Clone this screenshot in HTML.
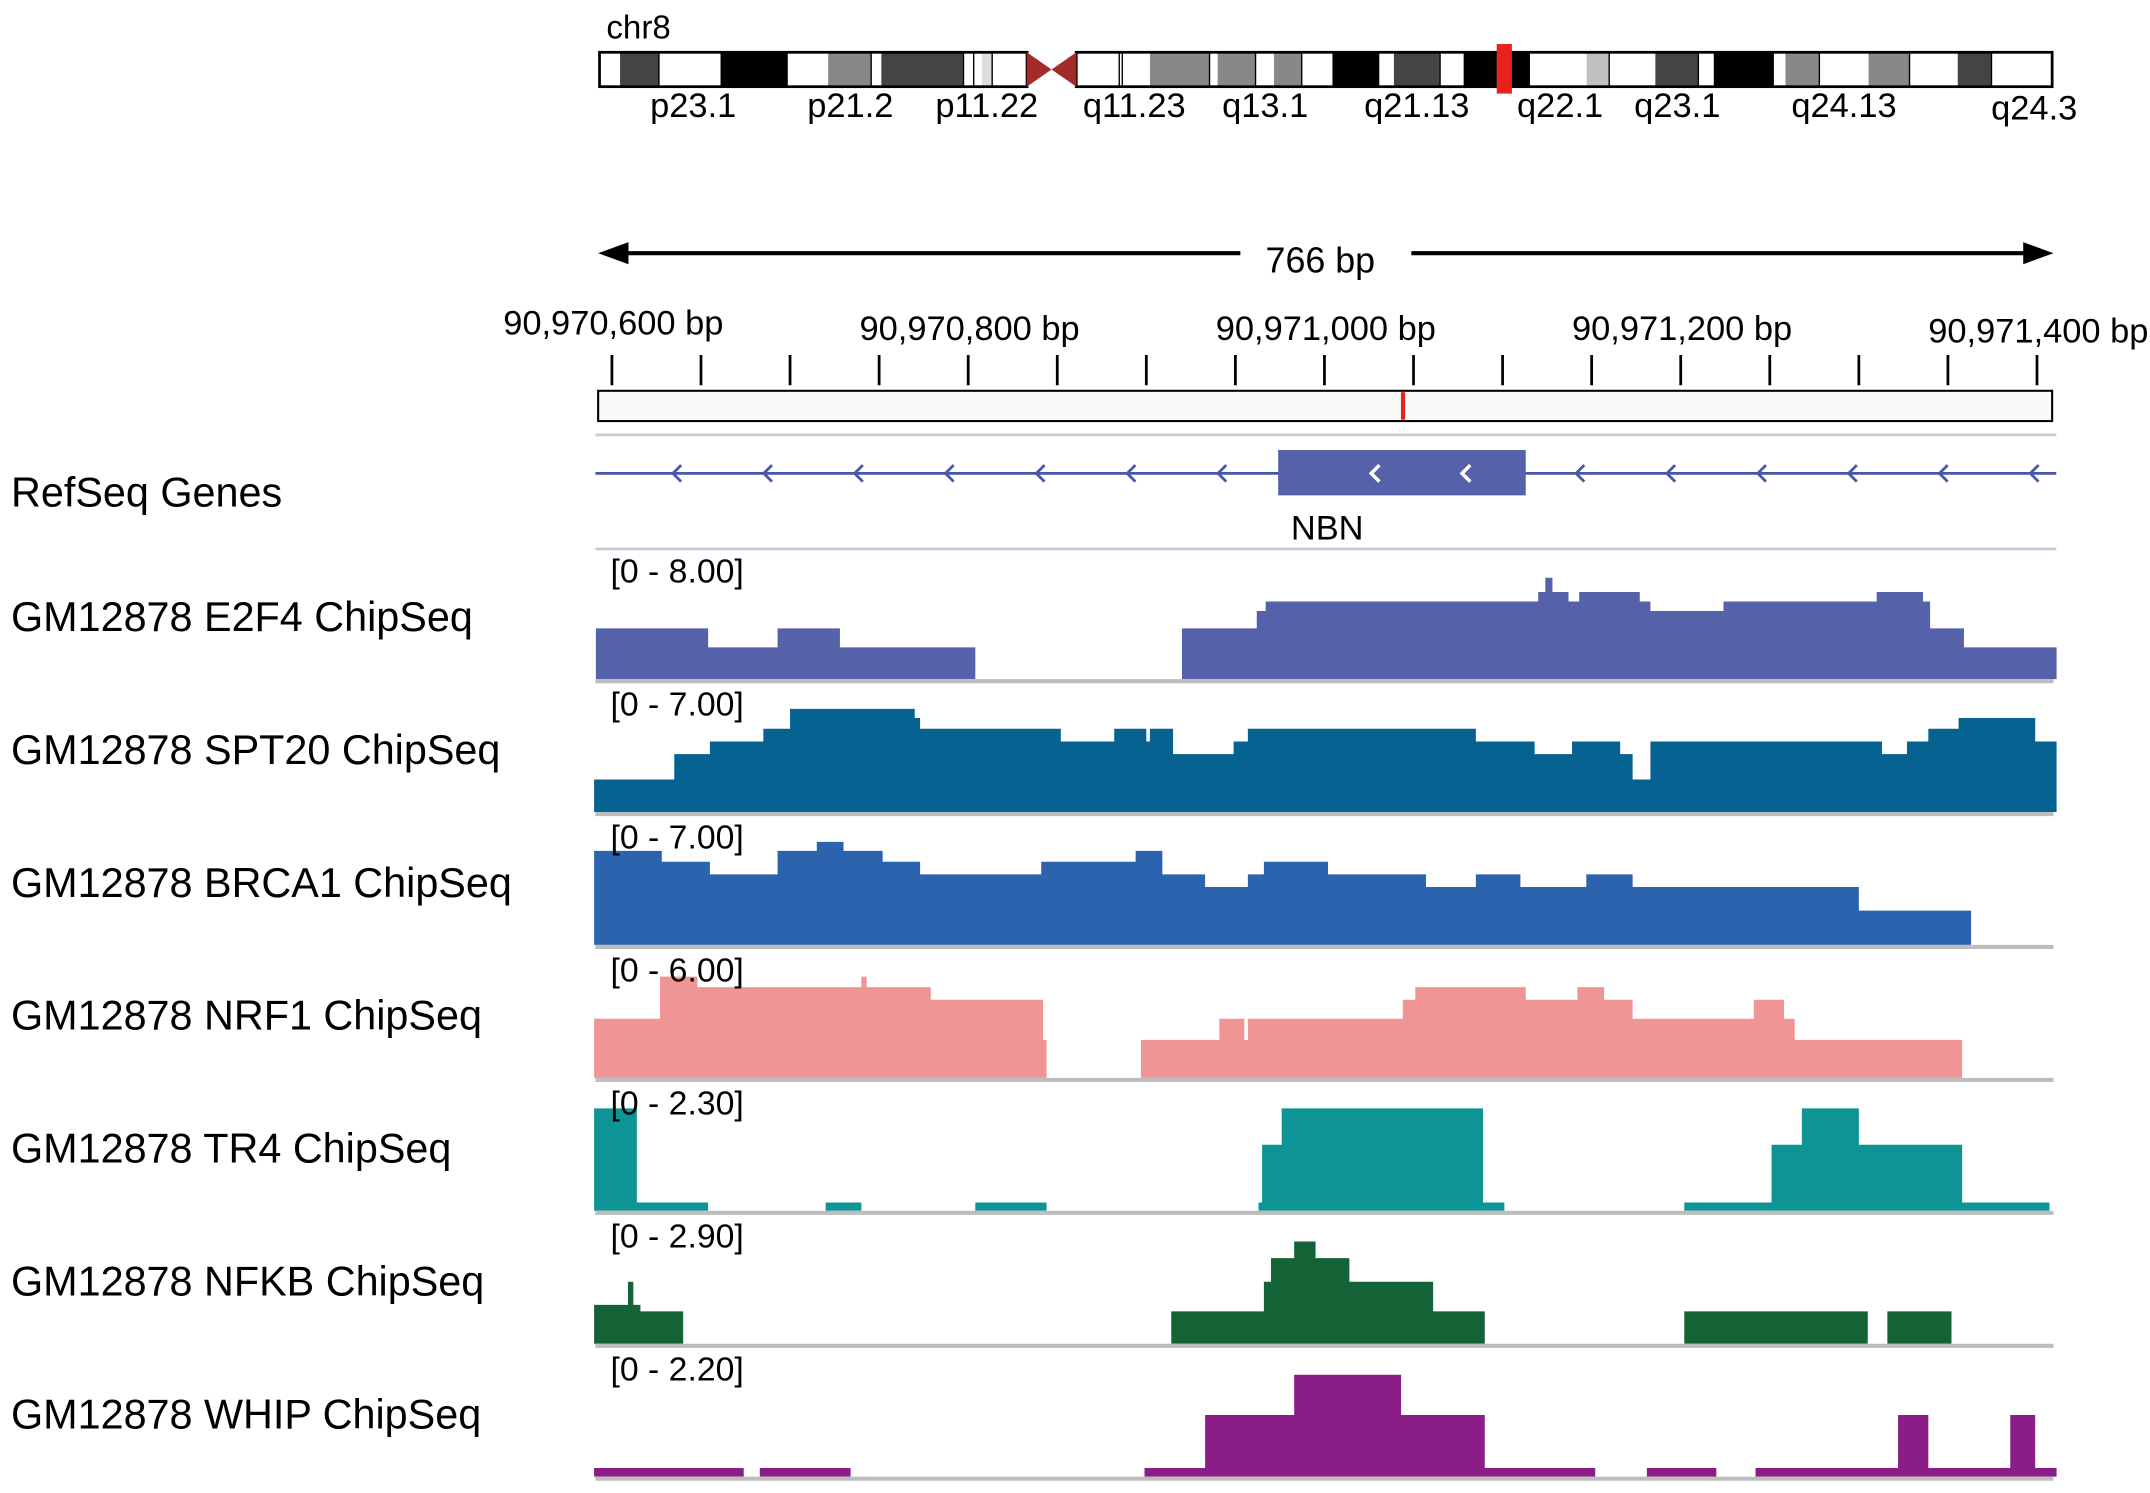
<!DOCTYPE html>
<html><head><meta charset="utf-8"><title>chr8 NBN ChIP-Seq tracks</title>
<style>
html,body{margin:0;padding:0;background:#fff;}
svg{display:block;}
text{font-family:"Liberation Sans",Arial,sans-serif;fill:#000;}
</style></head>
<body>
<svg id="chart" width="2150" height="1493" viewBox="0 0 1560 1085" preserveAspectRatio="none" xmlns="http://www.w3.org/2000/svg">
  <g id="ideogram"></g>
  <g id="ruler"></g>
  <g id="genes"></g>
  <g id="tracks"></g>
</svg>
<script>
const NS = "http://www.w3.org/2000/svg";
// ---- data ----
const bandEdges = [435,449.9,478.1,522.8,571.1,600.9,632.1,639.5,699.1,706.5,712.4,719.9,745.2];
const bandShades = ["#fff","#444","#fff","#000","#fff","#888","#fff","#444","#fff","#fff","#ddd","#fff"];
const qBandEdges = [780.9,812.1,814.3,834.4,877.6,883.5,911,924.4,944.5,966.8,1000.3,1011.4,1044.9,1062,1085.8,1097,1109.6,1151.3,1167.6,1201.1,1232.3,1243.5,1286.6,1295.5,1320.1,1355.8,1385.5,1420.5,1445,1489];
const qBandShades = ["#fff","#fff","#fff","#888","#fff","#888","#fff","#888","#fff","#000","#fff","#444","#fff","#000","#000","#000","#fff","#c0c0c0","#fff","#444","#fff","#000","#fff","#888","#fff","#888","#fff","#444","#fff"];
const bandLabels = ["p23.1","p21.2","p11.22","q11.23","q13.1","q21.13","q22.1","q23.1","q24.13","q24.3"];
const bandLabelX = [503,617,716,823,918,1028,1132,1217,1338,1476];

const tickLabels = ["90,970,600 bp","90,970,800 bp","90,971,000 bp","90,971,200 bp","90,971,400 bp"];
const tickLabelBp = [0,200,400,600,800];
const tickLabelY = [234,238,238,238,240];
const minorTicksBp = [0,50,100,150,200,250,300,350,400,450,500,550,600,650,700,750,800];
const geneExon = [374,513];
const geneChevronBp = [35,86,137,188,239,290,341,427,478,542,593,644,695,746,797];
const exonChevronBp = [427,478];

const trackNames = ["GM12878 E2F4 ChipSeq","GM12878 SPT20 ChipSeq","GM12878 BRCA1 ChipSeq","GM12878 NRF1 ChipSeq","GM12878 TR4 ChipSeq","GM12878 NFKB ChipSeq","GM12878 WHIP ChipSeq"];
const trackMax = [8.00,7.00,7.00,6.00,2.30,2.90,2.20];
const trackColors = ["#5561a8","#056291","#2c63ae","#f09596","#0e9494","#136336","#8b1d87"];

const e2f4Edges = [-9,54,93,128,204,320,362,367,520,524,528,537,543,577,583,624,710,736,740,759,811];
const e2f4Values = [3.2,2.0,3.2,2.0,0,3.2,4.3,4.9,5.5,6.4,5.5,4.9,5.5,4.9,4.3,4.9,5.5,4.9,3.2,2.0];
const spt20Edges = [-10,35,55,85,100,170,173,252,282,300,302,315,349,357,485,518,539,566,573,583,713,727,739,756,799,811];
const spt20Values = [1.8,3.2,3.9,4.6,5.7,5.2,4.6,3.9,4.6,3.9,4.6,3.2,3.9,4.6,3.9,3.2,3.9,3.2,1.8,3.9,3.2,3.9,4.6,5.2,3.9];
const brca1Edges = [-10,28,55,93,115,130,152,173,241,294,309,333,357,366,402,457,485,510,547,573,700,763,811];
const brca1Values = [5.2,4.6,3.9,5.2,5.7,5.2,4.6,3.9,4.6,5.2,3.9,3.2,3.9,4.6,3.9,3.2,3.9,3.2,3.9,3.2,1.9,0];
const nrf1Edges = [-10,27,48,140,143,179,242,244,297,341,355,357,444,451,513,542,557,573,641,658,664,758,811];
const nrf1Values = [2.8,4.8,4.3,4.8,4.3,3.7,1.8,0,1.8,2.8,1.8,2.8,3.7,4.3,3.7,4.3,3.7,2.8,3.7,2.8,1.8,0];
const tr4Edges = [-10,14,54,120,140,204,244,363,365,376,489,501,602,651,668,700,758,807,811];
const tr4Values = [1.86,0.15,0,0.15,0,0.15,0,0.15,1.2,1.86,0.15,0,0.15,1.2,1.86,1.2,0.15,0];
const nfkbEdges = [-10,9,12,16,40,314,366,370,383,395,414,461,490,602,705,716,752,811];
const nfkbValues = [0.89,1.42,0.89,0.74,0,0.74,1.42,1.96,2.34,1.96,1.42,0.74,0,0.74,0,0.74,0];
const whipEdges = [-10,74,83,134,299,333,383,443,490,552,581,620,642,722,739,785,799,811];
const whipValues = [0.15,0,0.15,0,0.15,1.07,1.77,1.07,0.15,0,0.15,0,0.15,1.07,0.15,1.07,0.15];

const allEdges = [e2f4Edges,spt20Edges,brca1Edges,nrf1Edges,tr4Edges,nfkbEdges,whipEdges];
const allValues = [e2f4Values,spt20Values,brca1Values,nrf1Values,tr4Values,nfkbValues,whipValues];

// ---- scales ----
const PX_PER_BP = 1.2925;
function xScale(bpOffset){ return 444 + bpOffset*PX_PER_BP; }
const TRACK_H = 92;
const firstBase = 493.5, trackStep = 96.6;
function yScale(v, max, base){ return base - v/max*TRACK_H; }

function mk(tag, attrs, parent, txt){
  const el = document.createElementNS(NS, tag);
  for (const k in attrs) el.setAttribute(k, attrs[k]);
  if (txt !== undefined) el.textContent = txt;
  parent.appendChild(el);
  return el;
}

// ---- ideogram ----
const ideo = document.getElementById('ideogram');
let t = mk('text',{x:440,y:28,'font-size':24},ideo,'chr8');


function drawBands(edges, shades){
  for (let i=0;i<shades.length;i++){
    const r = mk('rect',{x:edges[i],y:38,width:edges[i+1]-edges[i],height:25,fill:shades[i]},ideo);
    
    
    if (shades[i]==="#fff" && i>0) mk('line',{x1:edges[i],y1:38,x2:edges[i],y2:63,stroke:'#000','stroke-width':1},ideo);
  }
  const o = mk('rect',{x:edges[0],y:38,width:edges[edges.length-1]-edges[0],height:25,fill:'none',stroke:'#000','stroke-width':2},ideo);
  
  
}
drawBands(bandEdges, bandShades);
drawBands(qBandEdges, qBandShades);
const cenL = mk('polygon',{points:'745,38 763,50.5 745,63',fill:'#a52a2a'},ideo);


const cenR = mk('polygon',{points:'781,38 763,50.5 781,63',fill:'#a52a2a'},ideo);


const mark = mk('rect',{x:1086,y:32,width:11,height:36,fill:'#e8221b'},ideo);


for (let i=0;i<bandLabels.length;i++){
  const l = mk('text',{x:bandLabelX[i],y:i===9?87:85,'font-size':25,'text-anchor':'middle'},ideo,bandLabels[i]);
  
  
}

// ---- ruler ----
const ruler = document.getElementById('ruler');
mk('line',{x1:450,y1:184,x2:900,y2:184,stroke:'#000','stroke-width':3},ruler);
mk('line',{x1:1024,y1:184,x2:1472,y2:184,stroke:'#000','stroke-width':3},ruler);
mk('polygon',{points:'434,184 456,176 456,192',fill:'#000'},ruler);
mk('polygon',{points:'1490,184 1468,176 1468,192',fill:'#000'},ruler);
t = mk('text',{x:958,y:198,'font-size':26,'text-anchor':'middle'},ruler,'766 bp');


for (let i=0;i<tickLabels.length;i++){
  const l = mk('text',{x:xScale(tickLabelBp[i])+1,y:tickLabelY[i]+9,'font-size':25,'text-anchor':'middle'},ruler,tickLabels[i]);
  
  
}
for (const b of minorTicksBp){
  const tk = mk('line',{x1:xScale(b),y1:258,x2:xScale(b),y2:280,stroke:'#000','stroke-width':2},ruler);
  
  
}
const rb = mk('rect',{x:434,y:284,width:1055,height:22,fill:'#fafafa',stroke:'#000','stroke-width':1.5},ruler);


mk('line',{x1:1018,y1:285,x2:1018,y2:305,stroke:'#e8221b','stroke-width':3},ruler);
mk('line',{x1:432,y1:316,x2:1492,y2:316,stroke:'#ccc','stroke-width':2},ruler);

// ---- gene track ----
const genes = document.getElementById('genes');
t = mk('text',{x:8,y:368,'font-size':30},genes,'RefSeq Genes');


mk('line',{x1:432,y1:344,x2:1492,y2:344,stroke:'#4a56a8','stroke-width':2},genes);
for (const b of geneChevronBp){
  const x = xScale(b);
  mk('polyline',{points:`${x+5},338 ${x-1},344 ${x+5},350`,fill:'none',stroke:'#4a56a8','stroke-width':2},genes);
}
const ex = mk('rect',{x:xScale(geneExon[0]),y:327,width:xScale(geneExon[1])-xScale(geneExon[0]),height:33,fill:'#5561a8'},genes);


for (const b of exonChevronBp){
  const x = xScale(b);
  mk('polyline',{points:`${x+5},338 ${x-1},344 ${x+5},350`,fill:'none',stroke:'#fff','stroke-width':2.5},genes);
}
t = mk('text',{x:963,y:392,'font-size':25,'text-anchor':'middle'},genes,'NBN');


mk('line',{x1:432,y1:399,x2:1492,y2:399,stroke:'#c8c8d8','stroke-width':2},genes);

// ---- chipseq tracks ----
const tracks = document.getElementById('tracks');
for (let k=0;k<trackNames.length;k++){
  const base = firstBase + k*trackStep;
  const g = mk('g',{},tracks);
  
  
  const edges = allEdges[k], vals = allValues[k], max = trackMax[k];
  let d = `M${xScale(edges[0])},${base}`;
  for (let i=0;i<vals.length;i++){
    const y = yScale(vals[i],max,base);
    d += ` V${y} H${xScale(edges[i+1])}`;
  }
  d += ` V${base} Z`;
  const p = mk('path',{d:d,fill:trackColors[k]},g);
  
  
  const sep = mk('line',{x1:432,y1:base+1.5,x2:1490,y2:base+1.5,stroke:'#bdbdbd','stroke-width':3},g);
  
  
  const nm = mk('text',{x:8,y:base-35,'font-size':30},g,trackNames[k]);
  
  
  const rg = mk('text',{x:443,y:base-70,'font-size':24.5},g,'[0 - '+max.toFixed(2)+']');
  
  
}
</script>
</body></html>
